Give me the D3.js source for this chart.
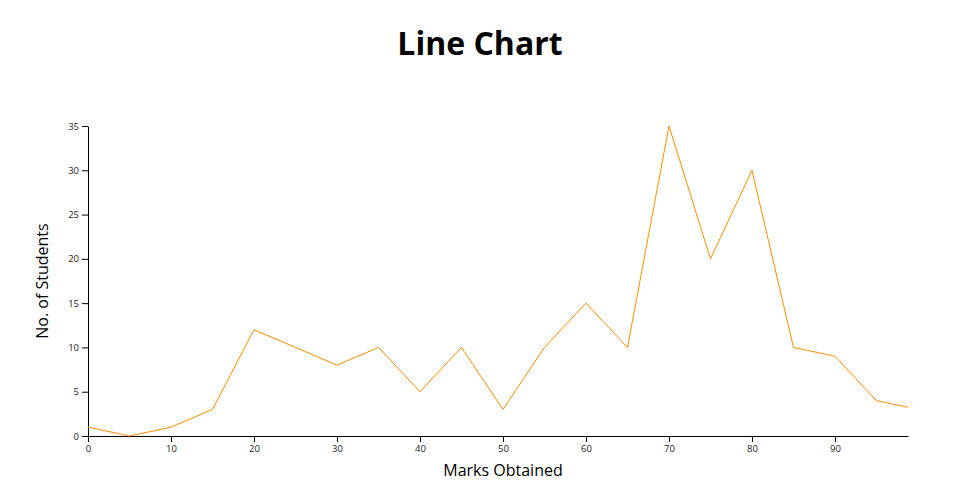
<!DOCTYPE html>
<html><head><meta charset="utf-8">
<script src="https://cdn.jsdelivr.net/npm/d3@7"></script>
<style>body{margin:0;background:#fff;font-family:"Open Sans",sans-serif;}</style>
</head><body>
<svg id="chart" width="960" height="500"></svg>
<script>
const marks = [0,5,10,15,20,25,30,35,40,45,50,55,60,65,70,75,80,85,90,95,100];
const students = [1,0,1,3,12,10,8,10,5,10,3,10,15,10,35,20,30,10,9,4,3];
const xTicks = [0,10,20,30,40,50,60,70,80,90];
const yTicks = [0,5,10,15,20,25,30,35];

const W=960,H=500,m={top:126,right:52,bottom:64,left:88};
const svg=d3.select("#chart");
const x=d3.scaleLinear().domain([0,98.8]).range([m.left,W-m.right]);
const y=d3.scaleLinear().domain([0,35]).range([H-m.bottom,m.top]);

svg.append("defs").append("clipPath").attr("id","clip").append("rect")
  .attr("x",m.left).attr("y",m.top-5).attr("width",W-m.right-m.left).attr("height",H-m.bottom-m.top+10);

svg.append("text").attr("x",480).attr("y",55).attr("text-anchor","middle")
  .style("font-family","Open Sans").style("font-weight","bold").style("font-size","32px").text("Line Chart");

const gx=svg.append("g").attr("transform",`translate(0,${H-m.bottom})`)
  .call(d3.axisBottom(x).tickValues(xTicks).tickSizeOuter(0));
const gy=svg.append("g").attr("transform",`translate(${m.left},0)`)
  .call(d3.axisLeft(y).tickValues(yTicks).tickSizeOuter(0));
[gx,gy].forEach(g=>g.selectAll("text").style("font-family","Open Sans").style("font-size","9.5px").attr("fill","#222"));

svg.append("text").attr("x",(m.left+W-m.right)/2+5).attr("y",476).attr("text-anchor","middle")
  .style("font-family","Open Sans").style("font-size","16px").text("Marks Obtained");
svg.append("text").attr("transform",`translate(48,${(m.top+H-m.bottom)/2}) rotate(-90)`).attr("text-anchor","middle")
  .style("font-family","Open Sans").style("font-size","16px").text("No. of Students");

const data=marks.map((d,i)=>({x:d,y:students[i]}));
svg.append("path").datum(data).attr("clip-path","url(#clip)")
  .attr("fill","none").attr("stroke","darkorange").attr("stroke-width",1)
  .attr("d",d3.line().x(d=>x(d.x)).y(d=>y(d.y)));
</script>
</body></html>
